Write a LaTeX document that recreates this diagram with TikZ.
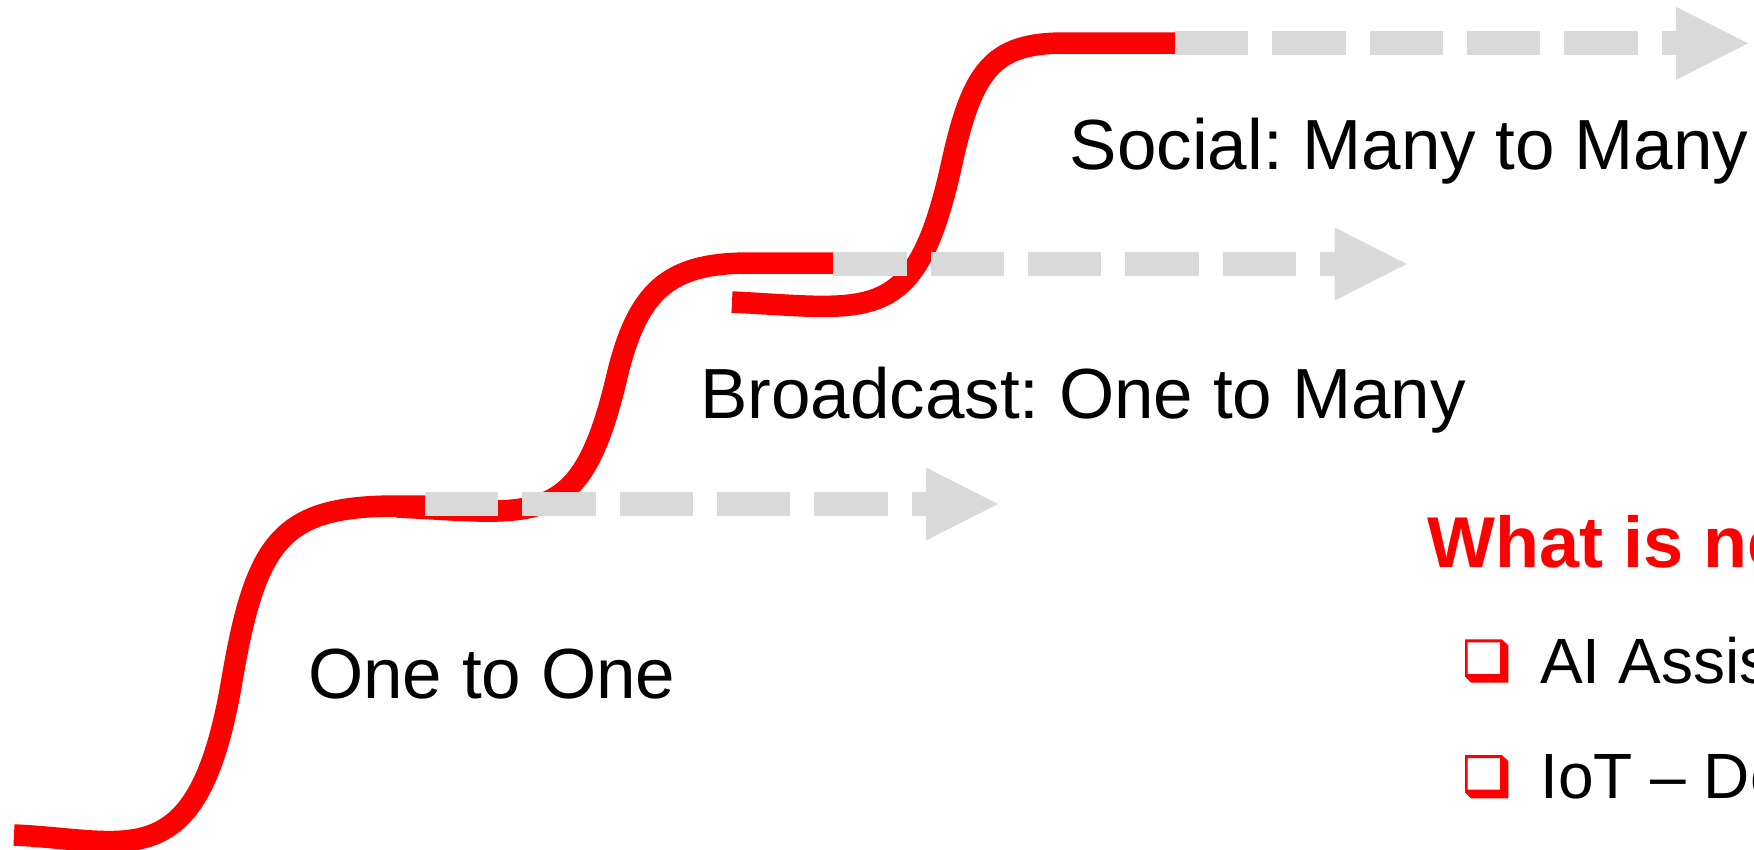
\documentclass[tikz,border=0pt]{standalone}
\usepackage{fontspec}
\setmainfont{Liberation Sans}
\usetikzlibrary{calc}
\definecolor{redA}{HTML}{FF0000}
\definecolor{grayA}{HTML}{D9D9D9}
\begin{document}
\frenchspacing
\begin{tikzpicture}[x=1pt,y=-1pt,
  redline/.style={draw=redA, line width=21.5pt},
  grayline/.style={draw=grayA, line width=24.3pt, dash pattern=on 73.3pt off 24pt},
  grayhead/.style={fill=grayA},
  biglabel/.style={anchor=base west, inner sep=0pt, font=\fontsize{71}{85}\selectfont},
  boldlabel/.style={anchor=base west, inner sep=0pt, text=redA, font=\fontsize{72}{86}\selectfont\bfseries},
  bullettext/.style={anchor=base west, inner sep=0pt, font=\fontsize{64}{77}\selectfont},
  qbox/.pic={\fill[redA, even odd rule] (0,0) -- (36.7,0) -- (43.3,6) -- (43.3,43.4) -- (6,43.4) -- (0,37.4) -- cycle (2.7,3) rectangle (35,34.7);}
]
\useasboundingbox (0,0) rectangle (1754,849);
\clip (0,0) rectangle (1754,849);

% red step curves
\draw[redline] (14,835) .. controls (130,840) and (198,880) .. (232,680)
  .. controls (255.8,540) and (282,507) .. (393,506) -- (432,506);
\draw[redline] (397,507) .. controls (537,513.6) and (580,530.5) .. (616,380.3)
  .. controls (637,290) and (668,263) .. (750,263) -- (840,263);
\draw[redline] (732,302) .. controls (872,309) and (915,327) .. (951,167)
  .. controls (972,70) and (992,43) .. (1065,43) -- (1180,43);

% gray dashed arrows
\coordinate (a1s) at (425,504);
\coordinate (a1b) at (926,504);
\coordinate (a1t) at (998,504);
\coordinate (a2s) at (833.3,264);
\coordinate (a2b) at (1334.7,264);
\coordinate (a2t) at (1406.7,264);
\coordinate (a3s) at (1175,43.3);
\coordinate (a3b) at (1676,43.3);
\coordinate (a3t) at (1748,43.3);
\foreach \i in {1,2,3}{
  \draw[grayline] (a\i s) -- ($(a\i b)+(3,0)$);
  \fill[grayhead] ($(a\i b)+(0,-36.5)$) -- (a\i t) -- ($(a\i b)+(0,36.5)$) -- cycle;
}

% labels
\node[biglabel] (lone) at (308,698.5) {One to One};
\node[biglabel] (lbroad) at (700,418.5) {Broadcast: One to Many};
\node[biglabel] (lsocial) at (1069.5,169) {Social: Many to Many};
\node[boldlabel] (lwhat) at (1427,567) {What is ne};

% bullets
\pic (bx1) at (1465,639.3) {qbox};
\pic (bx2) at (1465,755) {qbox};
\node[bullettext] (bone) at (1540,683) {AI Assis};
\node[bullettext] (btwo) at (1540,798.5) {IoT – De};
\end{tikzpicture}
\end{document}
